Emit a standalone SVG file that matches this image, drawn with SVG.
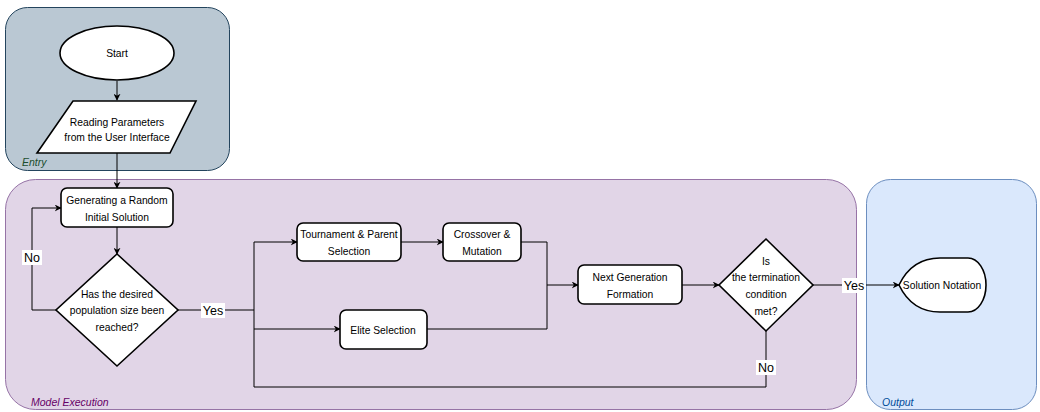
<svg xmlns="http://www.w3.org/2000/svg" width="1040" height="412" viewBox="0 0 1040 412">
<defs>
<marker id="arr" viewBox="0 0 10 10" refX="9" refY="5" markerWidth="7" markerHeight="7" markerUnits="userSpaceOnUse" orient="auto">
<path d="M0,0 L10,5 L0,10 L3,5 Z" fill="#000"/>
</marker>
</defs>
<style>
.node{fill:#fff;stroke:#000;stroke-width:1.6}
.t{font-family:"Liberation Sans",Arial,sans-serif;font-size:10.3px;fill:#000;text-anchor:middle}
.lbl{font-family:"Liberation Sans",Arial,sans-serif;font-size:12.5px;fill:#000;text-anchor:middle}
.edge{fill:none;stroke:#000;stroke-width:1}
.cl{font-family:"Liberation Sans",Arial,sans-serif;font-size:10.5px;font-style:italic}
</style>
<g id="entry">
<rect x="5.5" y="7.5" width="224" height="163" rx="22" fill="#bac8d3" stroke="#23445d" stroke-width="1"/>
<text class="cl" x="22" y="166" fill="#1a4d2e">Entry</text>
</g>
<g id="model-execution">
<rect x="5.5" y="179.5" width="851" height="230" rx="30" fill="#e1d5e7" stroke="#9673a6" stroke-width="1"/>
<text class="cl" x="31" y="406" fill="#660066">Model Execution</text>
</g>
<g id="output">
<rect x="866.5" y="179.5" width="170" height="230" rx="24" fill="#dae8fc" stroke="#6c8ebf" stroke-width="1"/>
<text class="cl" x="882" y="406" fill="#004c99">Output</text>
</g>
<g id="connectors">
<path class="edge" d="M117,81 V100" marker-end="url(#arr)"/>
<path class="edge" d="M117,153 V188" marker-end="url(#arr)"/>
<path class="edge" d="M117,227 V254" marker-end="url(#arr)"/>
<path class="edge" d="M57,310 H32 V208 H61" marker-end="url(#arr)"/>
<path class="edge" d="M178,310 H254"/>
<path class="edge" d="M254,242 V387"/>
<path class="edge" d="M254,242 H297" marker-end="url(#arr)"/>
<path class="edge" d="M254,329 H340" marker-end="url(#arr)"/>
<path class="edge" d="M401,242 H443" marker-end="url(#arr)"/>
<path class="edge" d="M521,242 H547 V329 H427"/>
<path class="edge" d="M547,285 H578" marker-end="url(#arr)"/>
<path class="edge" d="M682,285 H719" marker-end="url(#arr)"/>
<path class="edge" d="M766,331 V387 H254"/>
<path class="edge" d="M813,285 H899" marker-end="url(#arr)"/>
<rect x="22" y="250" width="20" height="15" fill="#fff"/>
<text class="lbl" x="32" y="262">No</text>
<rect x="201" y="303" width="24" height="15" fill="#fff"/>
<text class="lbl" x="213" y="315">Yes</text>
<rect x="756" y="360" width="20" height="15" fill="#fff"/>
<text class="lbl" x="766" y="372">No</text>
<rect x="842" y="278" width="24" height="15" fill="#fff"/>
<text class="lbl" x="854" y="290">Yes</text>
</g>
<g id="start">
<ellipse class="node" cx="117" cy="53" rx="57" ry="27"/>
<text class="t" x="117" y="57">Start</text>
</g>
<g id="reading-parameters">
<path class="node" d="M73,101 H196 L170,153 H37 Z"/>
<text class="t" x="117" y="126">Reading Parameters</text>
<text class="t" x="117" y="141">from the User Interface</text>
</g>
<g id="generating">
<rect class="node" x="61" y="188" width="112" height="39" rx="6"/>
<text class="t" x="117" y="204">Generating a Random</text>
<text class="t" x="117" y="221">Initial Solution</text>
</g>
<g id="population-check">
<path class="node" d="M117,254 L178,310 L117,366 L56,310 Z"/>
<text class="t" x="117" y="298">Has the desired</text>
<text class="t" x="117" y="314">population size been</text>
<text class="t" x="117" y="331">reached?</text>
</g>
<g id="tournament">
<rect class="node" x="297" y="223" width="104" height="38" rx="6"/>
<text class="t" x="349" y="238">Tournament &amp; Parent</text>
<text class="t" x="349" y="255">Selection</text>
</g>
<g id="crossover">
<rect class="node" x="443" y="223" width="78" height="38" rx="6"/>
<text class="t" x="482" y="238">Crossover &amp;</text>
<text class="t" x="482" y="255">Mutation</text>
</g>
<g id="elite">
<rect class="node" x="340" y="310" width="87" height="39" rx="6"/>
<text class="t" x="383" y="334">Elite Selection</text>
</g>
<g id="next-generation">
<rect class="node" x="578" y="265" width="104" height="39" rx="6"/>
<text class="t" x="630" y="281">Next Generation</text>
<text class="t" x="630" y="298">Formation</text>
</g>
<g id="termination-check">
<path class="node" d="M766,239 L813,285 L766,331 L719,285 Z"/>
<text class="t" x="766" y="265">Is</text>
<text class="t" x="766" y="281">the termination</text>
<text class="t" x="766" y="298">condition</text>
<text class="t" x="766" y="315">met?</text>
</g>
<g id="solution-notation">
<path class="node" d="M899,285 Q912,258 940,258 H968 A18,27 0 0 1 968,312 H940 Q912,312 899,285 Z"/>
<text class="t" x="942" y="289">Solution Notation</text>
</g>
</svg>
